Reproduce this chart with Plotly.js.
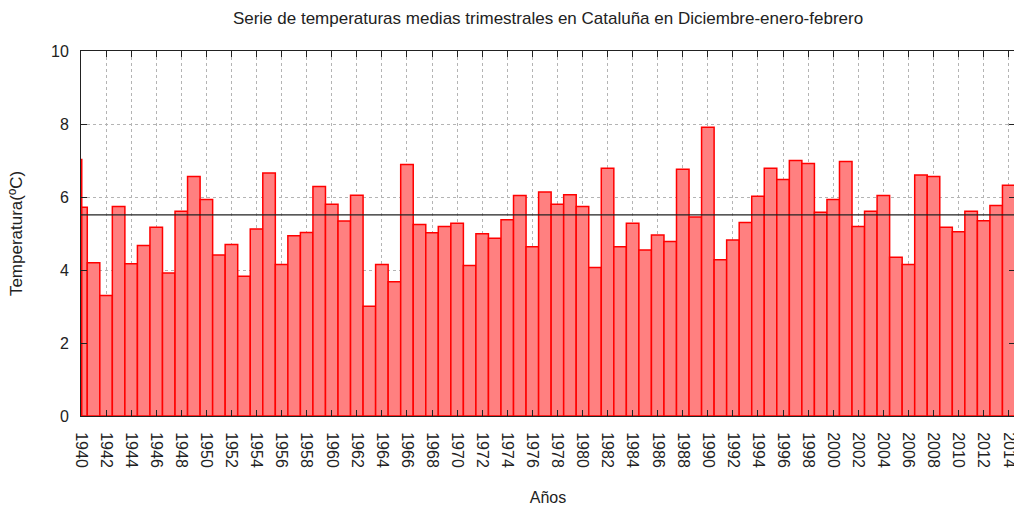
<!DOCTYPE html>
<html>
<head>
<meta charset="utf-8">
<script src="https://cdn.plot.ly/plotly-3.0.1.min.js"></script>
<style>
html,body{margin:0;padding:0;overflow:hidden;background:#fff;}
#chart{width:1016px;height:506px;}
</style>
</head>
<body>
<div id="chart"></div>
<script>
const years = [1940,1941,1942,1943,1944,1945,1946,1947,1948,1949,
  1950,1951,1952,1953,1954,1955,1956,1957,1958,1959,
  1960,1961,1962,1963,1964,1965,1966,1967,1968,1969,
  1970,1971,1972,1973,1974,1975,1976,1977,1978,1979,
  1980,1981,1982,1983,1984,1985,1986,1987,1988,1989,
  1990,1991,1992,1993,1994,1995,1996,1997,1998,1999,
  2000,2001,2002,2003,2004,2005,2006,2007,2008,2009,
  2010,2011,2012,2013,2014];
const temps = [5.72,4.20,3.30,5.74,4.17,4.67,5.17,3.92,5.61,6.56,
  5.93,4.41,4.70,3.83,5.12,6.66,4.15,4.94,5.03,6.29,
  5.80,5.34,6.05,3.01,4.15,3.68,6.89,5.25,5.02,5.19,
  5.28,4.12,4.99,4.87,5.38,6.04,4.64,6.14,5.80,6.06,
  5.74,4.07,6.79,4.64,5.28,4.55,4.96,4.78,6.76,5.45,
  7.91,4.28,4.82,5.30,6.02,6.79,6.48,7.00,6.92,5.58,
  5.93,6.97,5.19,5.61,6.04,4.35,4.15,6.60,6.56,5.17,
  5.05,5.61,5.35,5.77,6.32];
const xTickVals = [1940,1942,1944,1946,1948,1950,1952,1954,1956,1958,
  1960,1962,1964,1966,1968,1970,1972,1974,1976,1978,
  1980,1982,1984,1986,1988,1990,1992,1994,1996,1998,
  2000,2002,2004,2006,2008,2010,2012,2014];
const yTickVals = [0,2,4,6,8,10];
// previous season (1939), clipped to the left border as in the original
const prevYear = 1939;
const prevTemp = 7.05;
const meanTemp = 5.51;
const xRange = [1940, 2014.5];
const yRange = [0, 10];

const font = {family: '"Liberation Sans", Arial, sans-serif', color: '#222'};

const traces = [
  {
    type: 'bar', x: years, y: temps, width: 1,
    marker: {color: '#ff8080', line: {color: '#ff0000', width: 1.5}},
    hoverinfo: 'x+y', showlegend: false
  },
  {
    type: 'scatter', mode: 'lines',
    x: [xRange[0], xRange[0]], y: [0, prevTemp],
    line: {color: '#ff0000', width: 3}, showlegend: false,
    name: String(prevYear)
  }
];

const axisCommon = {
  showline: true, linecolor: '#222', linewidth: 1, mirror: 'ticks',
  ticks: 'inside', ticklen: 6, tickcolor: '#222', tickwidth: 1,
  showgrid: true, gridcolor: '#b4b4b4', griddash: 'dot', gridwidth: 1,
  zeroline: false, tickfont: Object.assign({size: 16}, font),
  ticklabeloverflow: 'allow'
};

const layout = {
  width: 1016, height: 506,
  margin: {l: 81, r: 1, t: 51, b: 90},
  paper_bgcolor: '#fff', plot_bgcolor: '#fff',
  bargap: 0,
  title: {text: 'Serie de temperaturas medias trimestrales en Cataluña en Diciembre-enero-febrero',
    font: Object.assign({size: 17}, font), x: 0.5, xref: 'paper', y: 0.964, yanchor: 'middle'},
  xaxis: Object.assign({}, axisCommon, {
    range: xRange, tickmode: 'array', tickvals: xTickVals, ticktext: xTickVals.map(String),
    tickangle: 90, ticklabelstandoff: 12,
    title: {text: 'Años', font: Object.assign({size: 16}, font), standoff: 26}
  }),
  yaxis: Object.assign({}, axisCommon, {
    range: yRange, tickmode: 'array', tickvals: yTickVals, ticktext: yTickVals.map(String),
    ticklabelstandoff: 8,
    title: {text: 'Temperatura(ºC)', font: Object.assign({size: 17}, font), standoff: 24}
  }),
  shapes: [{
    type: 'line', xref: 'paper', x0: 0, x1: 1, yref: 'y', y0: meanTemp, y1: meanTemp,
    line: {color: '#222', width: 1.3}
  }]
};

Plotly.newPlot('chart', traces, layout, {displayModeBar: false, staticPlot: true});
</script>
</body>
</html>
